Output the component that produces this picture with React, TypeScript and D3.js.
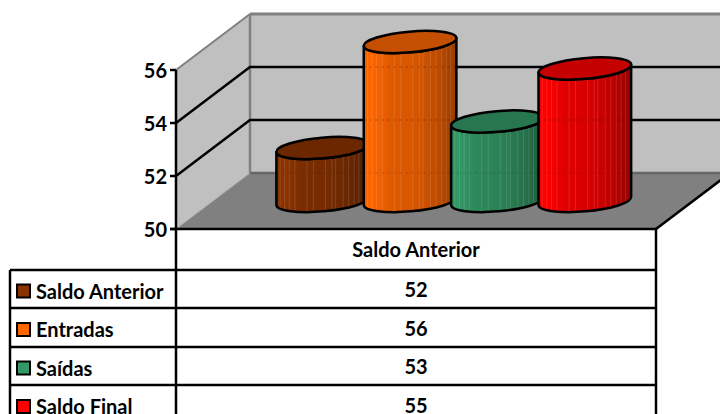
import React from "react";
import * as d3 from "d3";

const W = 720, H = 414;
const seriesNames = ["Saldo Anterior", "Entradas", "Saídas", "Saldo Final"];
const seriesValues = [52, 56, 53, 55];
const seriesColors = ["#8B3300", "#FF6600", "#339966", "#FF0000"];
const category = "Saldo Anterior";
const yTicks = [50, 52, 54, 56];
const stripeFractions = [0.04, 0.09, 0.14, 0.2, 0.33, 0.4, 0.53, 0.6, 0.64, 0.72, 0.78, 0.84, 0.89, 0.94];
const gradStops: [number, number][] = [[0, 0.94], [0.07, 1], [0.28, 0.88], [0.55, 0.84], [0.8, 0.74], [1, 0.58]];

const FONT = "Lato, Carlito, sans-serif";
const dx = 74, dy = -56;
const x0 = 176, x1 = 656;
const y = d3.scaleLinear().domain([50, 56]).range([229, 70]);
const barX = d3.scaleBand<string>().domain(seriesNames).range([276.5, 626]).padding(0);
const rows = [229, 270, 308, 347, 385, 424];
const tilt = -5, rx = 46.5, ry = 10.4;
const baseCy = 201;
const LW = 2.5;

function shade(c: string, k: number) {
  const r = d3.rgb(c);
  return d3.rgb(r.r * k, r.g * k, r.b * k).formatHex();
}

function Cylinder({ name, value, color, i }: { name: string; value: number; color: string; i: number }) {
  const cx = (barX(name) as number) + rx - 0.3;
  const h = y(50) - y(value);
  const topCy = baseCy - h;
  const th = (tilt * Math.PI) / 180;
  const ex = rx * Math.cos(th), ey = rx * Math.sin(th);
  const d = `M${cx - ex},${topCy - ey} L${cx - ex},${baseCy - ey} A${rx},${ry} ${tilt} 0 0 ${cx + ex},${baseCy + ey} L${cx + ex},${topCy + ey} A${rx},${ry} ${tilt} 0 1 ${cx - ex},${topCy - ey} Z`;
  const stripes = stripeFractions.map((f) => cx - ex + f * 2 * ex);
  const clipId = `clip${i}`;
  return (
    <g>
      <defs>
        <linearGradient id={`g${i}`} x1="0" x2="1" y1="0" y2="0">
          {gradStops.map(([o, k]) => (
            <stop key={o} offset={o} stopColor={shade(color, k)} />
          ))}
        </linearGradient>
        <clipPath id={clipId}><path d={d} /></clipPath>
      </defs>
      <path d={d} fill={`url(#g${i})`} />
      <g clipPath={`url(#${clipId})`}>
        {stripes.map((sx, k) => (
          <line key={k} x1={sx} x2={sx} y1={topCy - ry - 6} y2={baseCy + ry + 6} stroke="#fff" strokeOpacity={0.13} strokeWidth={1} />
        ))}
        {yTicks.slice(1).map((t) => (
          <line key={t} x1={cx - ex} x2={cx + ex} y1={y(t) + dy} y2={y(t) + dy} stroke="#000" strokeOpacity={0.16} strokeWidth={2} strokeDasharray="2 4" />
        ))}
        <line x1={cx - ex} x2={cx + ex} y1={y(50) + dy} y2={y(50) + dy} stroke="#000" strokeOpacity={0.1} strokeWidth={2} strokeDasharray="2 4" />
      </g>
      <path d={d} fill="none" stroke="#000" strokeWidth={LW} strokeLinejoin="round" />
      <ellipse cx={cx} cy={topCy} rx={rx} ry={ry} transform={`rotate(${tilt} ${cx} ${topCy})`} fill={shade(color, 0.77)} stroke="#000" strokeWidth={LW} />
    </g>
  );
}

export default function App() {
  const yb = y(50), yt = y(56);
  const textStyle = { fontFamily: FONT, fontWeight: 700, fontSize: 20, fill: "#000" } as const;
  const wall = "#C0C0C0", floor = "#808080";
  const cxTable = (x0 + x1) / 2;
  return (
    <svg width={W} height={H} style={{ position: "absolute", left: 0, top: 0, background: "#fff" }}>
      <polygon points={`${x0},${yt} ${x0 + dx},${yt + dy} ${x0 + dx},${yb + dy} ${x0},${yb}`} fill={wall} />
      <rect x={x0 + dx} y={yt + dy} width={W} height={yb - yt} fill={wall} />
      <polygon points={`${x0},${yb} ${x1},${yb} ${x1 + dx},${yb + dy} ${x0 + dx},${yb + dy}`} fill={floor} />
      <line x1={x0} y1={yt} x2={x0 + dx} y2={yt + dy} stroke="#808080" strokeWidth={2} />
      <line x1={x0 + dx} y1={yt + dy} x2={W} y2={yt + dy} stroke="#808080" strokeWidth={3} />
      <line x1={x0 + dx} y1={yt + dy} x2={x0 + dx} y2={yb + dy} stroke="#808080" strokeWidth={2.5} />
      <line x1={x0 + dx} y1={yb + dy} x2={W} y2={yb + dy} stroke="#666" strokeWidth={2.5} />
      <line x1={x0} y1={yb} x2={x0 + dx} y2={yb + dy} stroke="#a6a6a6" strokeWidth={1} />
      {yTicks.slice(1, 3).map((t) => (
        <polyline key={t} points={`${x0},${y(t)} ${x0 + dx},${y(t) + dy} ${W},${y(t) + dy}`} fill="none" stroke="#000" strokeWidth={LW} />
      ))}
      {seriesNames.map((n, i) => (
        <Cylinder key={n} name={n} value={seriesValues[i]} color={seriesColors[i]} i={i} />
      ))}
      <line x1={x0} y1={yt} x2={x0} y2={H} stroke="#000" strokeWidth={LW} />
      <line x1={x1} y1={yb} x2={x1} y2={H} stroke="#000" strokeWidth={LW} />
      <line x1={x0 - 6} y1={yb} x2={x1} y2={yb} stroke="#000" strokeWidth={LW} />
      <line x1={x1} y1={yb} x2={x1 + dx} y2={yb + dy} stroke="#000" strokeWidth={LW} />
      {yTicks.map((t) => (
        <g key={t}>
          <line x1={x0 - 6} x2={x0} y1={y(t)} y2={y(t)} stroke="#000" strokeWidth={LW} />
          <text x={x0 - 9} y={y(t) - 0.5} textAnchor="end" dominantBaseline="central" style={textStyle}>{t}</text>
        </g>
      ))}
      <text x={cxTable} y={(rows[0] + rows[1]) / 2 - 1} textAnchor="middle" dominantBaseline="central" style={textStyle}>{category}</text>
      <line x1={10} x2={10} y1={rows[1]} y2={H} stroke="#000" strokeWidth={LW} />
      {rows.slice(1, 5).map((ry2) => (
        <line key={ry2} x1={10} x2={x1} y1={ry2} y2={ry2} stroke="#000" strokeWidth={LW} />
      ))}
      {seriesNames.map((n, i) => {
        const cy = (rows[i + 1] + rows[i + 2]) / 2;
        return (
          <g key={n}>
            <rect x={17} y={cy - 4.5} width={13} height={13} fill={seriesColors[i]} stroke="#000" strokeWidth={2} />
            <text x={36} y={cy + 1.5} dominantBaseline="central" style={textStyle}>{n}</text>
            <text x={cxTable} y={cy} textAnchor="middle" dominantBaseline="central" style={textStyle}>{seriesValues[i]}</text>
          </g>
        );
      })}
    </svg>
  );
}
